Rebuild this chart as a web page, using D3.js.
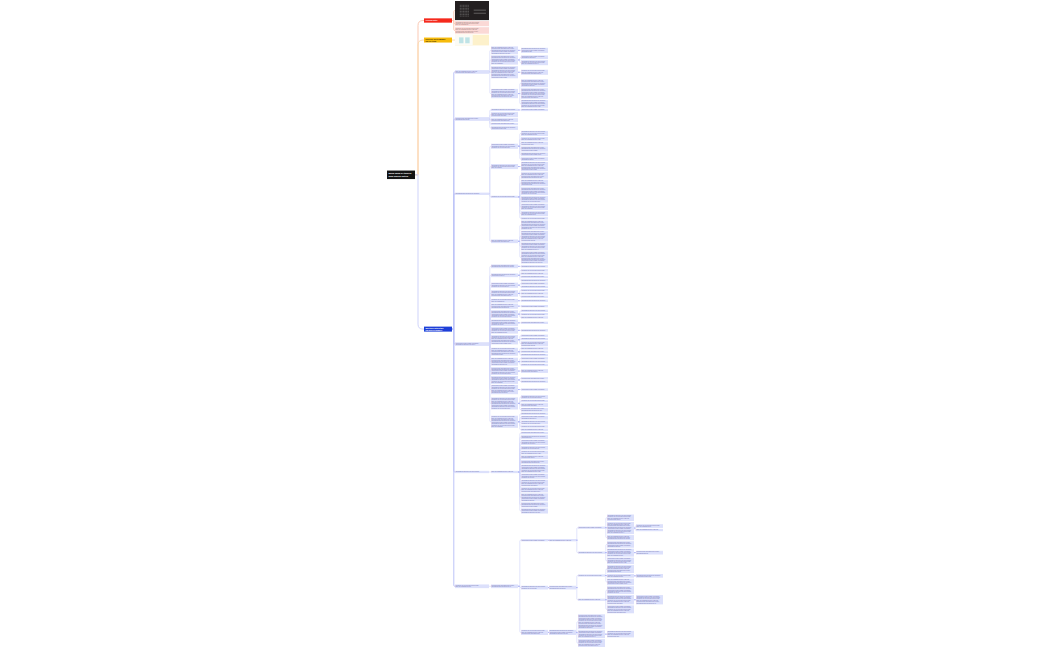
<!DOCTYPE html>
<html>
<head>
<meta charset="utf-8">
<script src="https://cdn.jsdelivr.net/npm/d3@7"></script>
<style>
    html, body { margin: 0; background: #fff; }
    text { font-family: "Liberation Sans", Arial, sans-serif; }
</style>
</head>
<body>
<svg id="chart" width="1050" height="650"></svg>
<script>
// outlines: [depth, number of text lines, optional kind]
const rootNode = [0, 2];
const redBranch = [[1, 1], [2, 13, 'shot'], [2, 3], [2, 4]];
const amberBranch = [[1, 2], [2, 7, 'sheet']];
const blueBranch = [[1, 2]];
const topicA = [[2, 2],
    [3, 5], [4, 3],
    [3, 6], [4, 2], [4, 3],
    [3, 8], [4, 3],
    [3, 6], [4, 5], [4, 7], [4, 5]];
const topicB = [[2, 2], [3, 1], [4, 1], [3, 3], [3, 2], [3, 1], [3, 2]];
const topicC = [[2, 1],
    [3, 3], [4, 3], [4, 2], [4, 2], [4, 3], [4, 2], [4, 2],
    [3, 3], [4, 6],
    [3, 1], [4, 4], [4, 4], [4, 5], [4, 4], [4, 4], [4, 3], [4, 1],
    [3, 2], [4, 6], [4, 7], [4, 5], [4, 8]];
const topicD = [[2, 2],
    [3, 2], [4, 1],
    [3, 2], [4, 1], [4, 1], [4, 1], [4, 1],
    [3, 3], [4, 1], [4, 1],
    [3, 4], [4, 1], [4, 1], [4, 1],
    [3, 2], [4, 1],
    [3, 3], [4, 1],
    [3, 5], [4, 1], [4, 1], [4, 1],
    [3, 4], [4, 1],
    [3, 4], [4, 1],
    [3, 6], [4, 1], [4, 1], [4, 3],
    [3, 5], [4, 1], [4, 1], [4, 1],
    [3, 5], [4, 1], [4, 1], [4, 1],
    [3, 5], [4, 2],
    [3, 5], [4, 1], [4, 1],
    [3, 6], [4, 1],
    [3, 8], [4, 2], [4, 1], [4, 2], [4, 2],
    [3, 8], [4, 1], [4, 2], [4, 2], [4, 1], [4, 1]];
const topicE = [[2, 1], [3, 1],
    [4, 1], [4, 2], [4, 3], [4, 2], [4, 2], [4, 2], [4, 2],
    [4, 5], [4, 3], [4, 4], [4, 3], [4, 5], [4, 3], [4, 3]];
const topicF = [[2, 2], [3, 2],
    [4, 1], [5, 1],
    [6, 1], [7, 4], [7, 8], [8, 2], [8, 1], [7, 3],
    [6, 1], [7, 4], [7, 5], [8, 2], [7, 4],
    [4, 2], [5, 2],
    [6, 1], [7, 5], [7, 2], [8, 2], [7, 4],
    [6, 1], [7, 5], [7, 6], [8, 6], [7, 5],
    [4, 3], [5, 3],
    [6, 10], [6, 5], [7, 4], [6, 5]];

const rootLines = ['Mind map of topics', 'and linked notes'];
const redTitle = ['Overview notes'];
const amberTitle = ['Reference sheet summary', 'and key terms'];
const blueTitle = ['Main topics with details', 'and worked examples'];
const noteLines = [
    'Short note describing the point of this topic',
    'with some further detail about how it is used',
    'and what should be checked before moving on',
    'together with a related example from practice',
    'that shows the main idea in one brief sentence',
    'followed by the next step and expected result'
];

const columnLeft = [387, 424, 455, 491, 521, 549, 578, 607, 636];
const columnWidth = [28, 28, 34, 27, 27, 27, 27, 27, 27];
const column = d3.scaleOrdinal().domain(d3.range(9)).range(columnLeft);
const width = d3.scaleOrdinal().domain(d3.range(9)).range(columnWidth);
const boxHeight = d3.scaleLinear().domain([0, 1]).range([0.9, 2.3]);
const lineGap = boxHeight(1) - boxHeight(0);
const nodeGap = 1;
const startY = 1;

// turn the flat outlines into one tree
function buildTree() {
    const rows = [rootNode, ...redBranch, ...amberBranch, ...blueBranch,
        ...topicA, ...topicB, ...topicC, ...topicD, ...topicE, ...topicF];
    const root = { depth: rows[0][0], lines: rows[0][1], children: [] };
    const stack = [root];
    rows.slice(1).forEach(([depth, lines, kind]) => {
        while (stack[stack.length - 1].depth >= depth) stack.pop();
        const item = { depth, lines, kind, children: [] };
        stack[stack.length - 1].children.push(item);
        stack.push(item);
    });
    return root;
}

const root = d3.hierarchy(buildTree());

// measure extents around each node centre, bottom up
root.eachAfter(node => {
    const h = node.depth === 0 ? 8.5 : node.depth === 1 ? 3.6 + node.data.lines * 0.7 : boxHeight(node.data.lines);
    node.h = h;
    if (!node.children) {
        node.top = -h / 2;
        node.bottom = h / 2;
        return;
    }
    let cursor = 0;
    node.children.forEach(kid => {
        kid.offset = cursor - kid.top;
        cursor += kid.bottom - kid.top + nodeGap;
    });
    const first = node.children[0];
    const last = node.children[node.children.length - 1];
    const centre = (first.offset + last.offset) / 2;
    node.children.forEach(kid => kid.offset -= centre);
    node.top = Math.min(-h / 2, first.offset + first.top);
    node.bottom = Math.max(h / 2, last.offset + last.bottom);
});

root.y = startY - root.top;
root.eachBefore(node => {
    if (node.parent) node.y = node.parent.y + node.offset;
    node.x = column(node.depth);
    node.w = width(node.depth);
});

// branch colours follow the first level node
const branchFill = ['#f5291c', '#f6bb0c', '#1d3fd8'];
const branchEdge = ['#fbc9b4', '#fcdcb0', '#cfd3fa'];
const branchTitle = [redTitle, amberTitle, blueTitle];
root.children.forEach((branch, i) => {
    branch.descendants().forEach(d => d.branch = i);
});

const svg = d3.select('#chart');
const edges = svg.append('g').attr('fill', 'none');
const nodes = svg.append('g');

function elbow(parent, kid) {
    const x0 = parent.x + parent.w;
    const x1 = kid.x;
    const mid = kid.depth === 1 ? x0 + 3 : x1 - 1.2;
    const dy = kid.y - parent.y;
    const r = Math.min(kid.depth === 1 ? 5 : 1, Math.abs(dy));
    const s = Math.sign(dy);
    if (s === 0) return `M${x0},${parent.y}H${x1}`;
    return `M${x0},${parent.y}H${mid}V${kid.y - s * r}Q${mid},${kid.y} ${mid + r},${kid.y}H${x1}`;
}

edges.selectAll('path')
    .data(root.links())
    .join('path')
    .attr('d', d => elbow(d.source, d.target))
    .attr('stroke', d => d.source.depth === 1 && d.target.branch === 2 ? '#bcc3f8' : branchEdge[d.target.branch])
    .attr('stroke-width', d => d.target.depth <= 2 ? 1 : 0.6);

// darker stub where a node with children meets its connector
edges.append('g')
    .selectAll('line')
    .data(root.descendants().filter(d => d.depth >= 3 && d.children))
    .join('line')
    .attr('x1', d => d.x + d.w)
    .attr('x2', d => d.x + d.w + 1.8)
    .attr('y1', d => d.y)
    .attr('y2', d => d.y)
    .attr('stroke', '#a4abf6')
    .attr('stroke-width', 0.8);

const boxes = nodes.selectAll('g')
    .data(root.descendants())
    .join('g')
    .attr('transform', d => `translate(${d.x},${d.y - d.h / 2})`);

boxes.append('rect')
    .attr('width', d => d.w)
    .attr('height', d => d.h)
    .attr('fill', d => {
        if (d.depth === 0) return '#141414';
        if (d.depth === 1) return branchFill[d.branch];
        if (d.branch === 0) return '#fbd9d6';
        if (d.branch === 1) return '#fdf1cb';
        return '#dce0fb';
    });

// the two pictures in the top branches
const shots = boxes.filter(d => d.data.kind === 'shot');
shots.select('rect').attr('fill', '#231f20');
shots.each(function (d) {
    const g = d3.select(this);
    const gx = d3.scaleLinear().domain([0, 6]).range([d.w * 0.14, d.w * 0.42]);
    const gy = d3.scaleLinear().domain([0, 8]).range([d.h * 0.2, d.h * 0.85]);
    d3.range(6).forEach(col => d3.range(8).forEach(row => {
        g.append('rect').attr('x', gx(col)).attr('y', gy(row))
            .attr('width', d.w * 0.036).attr('height', 0.8).attr('fill', '#5d5b5b');
    }));
    [0.46, 0.62].forEach(f => {
        g.append('rect').attr('x', d.w * 0.55).attr('y', d.h * f)
            .attr('width', d.w * 0.36).attr('height', 0.6).attr('fill', '#8a8888');
    });
});
const sheets = boxes.filter(d => d.data.kind === 'sheet');
sheets.each(function (d) {
    const g = d3.select(this);
    g.append('rect').attr('width', d.w * 0.52).attr('height', d.h).attr('fill', '#fbfbf6');
    [0.12, 0.3].forEach(f => {
        g.append('rect').attr('x', d.w * f).attr('y', d.h * 0.25)
            .attr('width', d.w * 0.13).attr('height', d.h * 0.55).attr('fill', '#bfe3e6');
    });
});

boxes.filter(d => !d.data.kind).each(function (d, i) {
    const g = d3.select(this);
    const strong = d.depth <= 1;
    const size = d.depth === 0 ? 2.5 : d.depth === 1 ? 1.6 : 1.15;
    const step = d.depth === 0 ? 3 : d.depth === 1 ? 1.9 : lineGap;
    const lines = d.depth === 0 ? rootLines
        : d.depth === 1 ? branchTitle[d.branch]
        : d3.range(d.data.lines).map(k => {
            const line = noteLines[(i + k) % noteLines.length];
            // last line of a note stops short, as running text does
            return k === d.data.lines - 1 && k > 0 ? line.slice(0, 20 + (i * 7) % 22) : line;
        });
    const textTop = (d.h - step * lines.length) / 2;
    g.selectAll('text')
        .data(lines)
        .join('text')
        .attr('x', strong ? 1.5 : 0.6)
        .attr('y', (t, k) => textTop + step * (k + 0.78))
        .attr('font-size', size)
        .attr('font-weight', strong ? 700 : 400)
        .attr('fill', strong ? (d.branch === 1 ? '#3a2c00' : '#fff') : d.branch === 2 ? '#5c63a8' : '#8a6a6a')
        .text(t => t);
});
</script>
</body>
</html>
